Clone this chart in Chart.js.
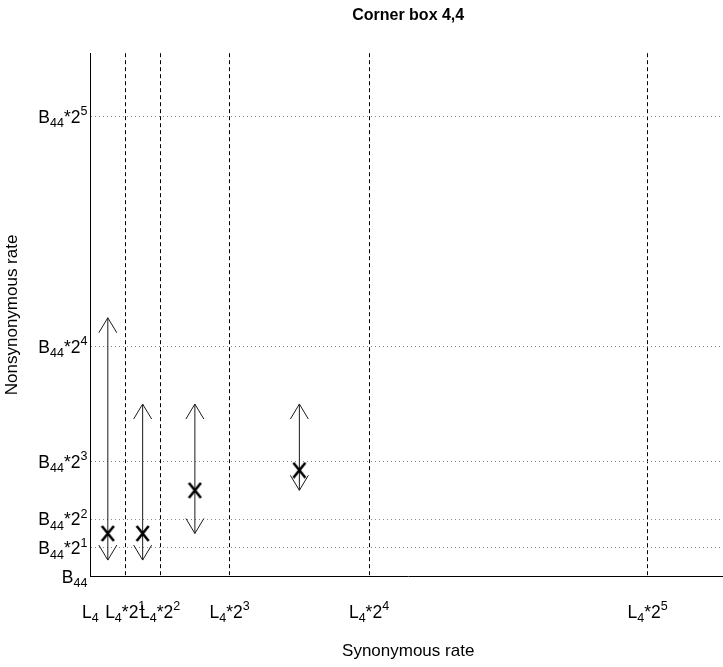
<!DOCTYPE html>
<html>
<head>
<meta charset="utf-8">
<script src="https://cdn.jsdelivr.net/npm/chart.js@4.4.1/dist/chart.umd.min.js"></script>
<style>
  html, body { margin: 0; padding: 0; overflow: hidden; background: #fff; }
  canvas { display: block; }
</style>
</head>
<body>
<canvas id="chart" width="816" height="667"></canvas>
<script>
const FONT = "'Liberation Sans', Arial, Helvetica, sans-serif";

// Tick positions and labels ("_{..}" = subscript, "^{..}" = superscript)
const xTickValues = [0, 2, 4, 8, 16, 32];
const xTickLabels = ['L_{4}', 'L_{4}*2^{1}', 'L_{4}*2^{2}', 'L_{4}*2^{3}', 'L_{4}*2^{4}', 'L_{4}*2^{5}'];
const yTickValues = [0, 2, 4, 8, 16, 32];
const yTickLabels = ['B_{44}', 'B_{44}*2^{1}', 'B_{44}*2^{2}', 'B_{44}*2^{3}', 'B_{44}*2^{4}', 'B_{44}*2^{5}'];

// Estimated rates with their lower / upper bounds
const synonymousRate = [1, 3, 6, 12];
const nonsynonymousRate = [3, 3, 6, 7.4];
const rateLower = [1.15, 1.15, 3, 6];
const rateUpper = [18, 12, 12, 12];

const xMax = 36.5;
const yMax = 36.4;

// "X" marker image used as point style
function makeCross() {
  const c = document.createElement('canvas');
  c.width = 15; c.height = 17;
  const g = c.getContext('2d');
  g.strokeStyle = '#000';
  g.lineWidth = 2.6;
  g.lineCap = 'butt';
  g.beginPath();
  g.moveTo(1.5, 1); g.lineTo(13.5, 16);
  g.moveTo(13.5, 1); g.lineTo(1.5, 16);
  g.stroke();
  return c;
}

function parseRich(str) {
  const segs = [];
  const re = /([_^])\{([^}]*)\}|([^_^]+)/g;
  let m;
  while ((m = re.exec(str)) !== null) {
    if (m[1]) segs.push({ text: m[2], mode: m[1] === '_' ? 'sub' : 'sup' });
    else segs.push({ text: m[3], mode: 'n' });
  }
  return segs;
}

const MAIN_SIZE = 17.5, SMALL_SIZE = 12.5;
function segFont(mode) {
  return (mode === 'n' ? MAIN_SIZE : SMALL_SIZE) + 'px ' + FONT;
}
function drawRich(ctx, str, x, yMid, align) {
  const segs = parseRich(str);
  let total = 0;
  segs.forEach(s => { ctx.font = segFont(s.mode); s.w = ctx.measureText(s.text).width; total += s.w; });
  let cx = align === 'right' ? x - total : align === 'center' ? x - total / 2 : x;
  const base = yMid + 6.2;
  ctx.textAlign = 'left';
  ctx.textBaseline = 'alphabetic';
  segs.forEach(s => {
    ctx.font = segFont(s.mode);
    const dy = s.mode === 'sub' ? 4.5 : s.mode === 'sup' ? -7.5 : 0;
    ctx.fillText(s.text, cx, base + dy);
    cx += s.w;
  });
}

const richTicks = {
  id: 'richTicks',
  afterDraw(chart) {
    const { ctx, scales: { x, y } } = chart;
    ctx.save();
    ctx.fillStyle = '#000';
    xTickValues.forEach((v, i) => {
      drawRich(ctx, xTickLabels[i], x.getPixelForValue(v), y.bottom + 35, 'center');
    });
    yTickValues.forEach((v, i) => {
      drawRich(ctx, yTickLabels[i], x.left - 3, y.getPixelForValue(v), 'right');
    });
    ctx.restore();
  }
};

const rateArrows = {
  id: 'rateArrows',
  beforeDatasetsDraw(chart) {
    const { ctx, scales: { x, y } } = chart;
    ctx.save();
    ctx.strokeStyle = '#1a1a1a';
    ctx.lineWidth = 1;
    const head = 15, half = 9;
    synonymousRate.forEach((s, i) => {
      const px = x.getPixelForValue(s);
      const top = y.getPixelForValue(rateUpper[i]);
      const bot = y.getPixelForValue(rateLower[i]);
      ctx.beginPath();
      ctx.moveTo(px, bot); ctx.lineTo(px, top);
      ctx.moveTo(px - half, top + head); ctx.lineTo(px, top); ctx.lineTo(px + half, top + head);
      ctx.moveTo(px - half, bot - head); ctx.lineTo(px, bot); ctx.lineTo(px + half, bot - head);
      ctx.stroke();
    });
    ctx.restore();
  }
};

new Chart(document.getElementById('chart'), {
  type: 'scatter',
  data: {
    datasets: [{
      data: synonymousRate.map((s, i) => ({ x: s, y: nonsynonymousRate[i] })),
      pointStyle: makeCross(),
      pointRadius: 8,
      pointHoverRadius: 8
    }]
  },
  options: {
    responsive: false,
    animation: false,
    events: [],
    layout: { padding: { right: 90 } },
    plugins: {
      legend: { display: false },
      tooltip: { enabled: false },
      title: {
        display: true,
        fullSize: false,
        text: 'Corner box 4,4',
        color: '#000',
        font: { family: FONT, size: 16, weight: 'bold' },
        padding: { top: 6, bottom: 28 }
      }
    },
    scales: {
      x: {
        type: 'linear',
        min: 0,
        max: xMax,
        afterBuildTicks: s => { s.ticks = xTickValues.map(v => ({ value: v })); },
        ticks: { display: false },
        grid: { color: '#000', lineWidth: 1, drawTicks: false },
        border: { display: true, color: '#000', width: 1, dash: [4, 3] },
        title: {
          display: true,
          text: 'Synonymous rate',
          color: '#000',
          font: { family: FONT, size: 17 },
          padding: { top: 65, bottom: 5 }
        }
      },
      y: {
        type: 'linear',
        min: 0,
        max: yMax,
        afterBuildTicks: s => { s.ticks = yTickValues.map(v => ({ value: v })); },
        ticks: { display: false },
        grid: { color: '#888', lineWidth: 1, drawTicks: false },
        border: { display: true, color: '#000', width: 1, dash: [1, 3] },
        title: {
          display: true,
          text: 'Nonsynonymous rate',
          color: '#000',
          font: { family: FONT, size: 17 },
          padding: { top: 2, bottom: 68 }
        }
      }
    }
  },
  plugins: [rateArrows, richTicks]
});
</script>
</body>
</html>
